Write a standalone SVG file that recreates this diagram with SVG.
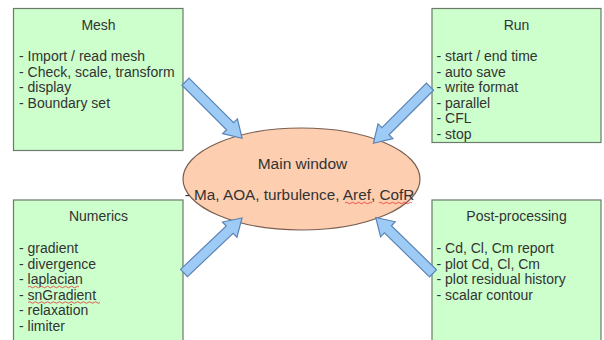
<svg xmlns="http://www.w3.org/2000/svg" width="604" height="340" viewBox="0 0 604 340">
<style>
.box{fill:#ccffcc;stroke:#6b7a6b;stroke-width:1.2}
.t{font-family:"Liberation Sans",Arial,sans-serif;font-size:14px;fill:#333333}
.c{text-anchor:middle}
.arr{fill:#9ecbf5;stroke:#5b84b5;stroke-width:1.2;stroke-linejoin:miter}
.sp{fill:none;stroke:#e03030;stroke-width:0.8}
</style>
<defs>
<path id="ar" d="M0,-5 L63,-5 L63,-10.5 L80,0 L63,10.5 L63,5 L0,5 Z"/>
</defs>
<rect width="604" height="340" fill="#ffffff"/>
<g id="mesh">
<rect class="box" x="13.5" y="8.5" width="169.5" height="142"/>
<text class="t c" x="98.5" y="30">Mesh</text>
<text class="t" x="19" y="61">- Import / read mesh</text>
<text class="t" x="19" y="76.5">- Check, scale, transform</text>
<text class="t" x="19" y="92">- display</text>
<text class="t" x="19" y="107.5">- Boundary set</text>
</g>
<g id="run">
<rect class="box" x="432" y="8.5" width="169" height="134"/>
<text class="t c" x="516.5" y="30">Run</text>
<text class="t" x="436.5" y="61">- start / end time</text>
<text class="t" x="436.5" y="76.5">- auto save</text>
<text class="t" x="436.5" y="92">- write format</text>
<text class="t" x="436.5" y="107.5">- parallel</text>
<text class="t" x="436.5" y="123">- CFL</text>
<text class="t" x="436.5" y="138.5">- stop</text>
</g>
<g id="numerics">
<rect class="box" x="13.5" y="200" width="169.5" height="160"/>
<text class="t c" x="98.5" y="221">Numerics</text>
<text class="t" x="19" y="253">- gradient</text>
<text class="t" x="19" y="268.5">- divergence</text>
<text class="t" x="19" y="284">- laplacian</text>
<text class="t" x="19" y="299.5">- snGradient</text>
<text class="t" x="19" y="315">- relaxation</text>
<text class="t" x="19" y="330.5">- limiter</text>
<path class="sp" d="M28,287 q1.5,-1.5 3,0 t3,0 t3,0 t3,0 t3,0 t3,0 t3,0 t3,0 t3,0 t3,0 t3,0 t3,0 t3,0 t3,0 t3,0 t3,0 t3,0"/>
<path class="sp" d="M28,302.5 q1.5,-1.5 3,0 t3,0 t3,0 t3,0 t3,0 t3,0 t3,0 t3,0 t3,0 t3,0 t3,0 t3,0 t3,0 t3,0 t3,0 t3,0 t3,0 t3,0 t3,0 t3,0 t3,0 t3,0 t3,0 t3,0"/>
</g>
<g id="post">
<rect class="box" x="432" y="200" width="169" height="160"/>
<text class="t c" x="516.5" y="221">Post-processing</text>
<text class="t" x="436.5" y="253">- Cd, Cl, Cm report</text>
<text class="t" x="436.5" y="268.5">- plot Cd, Cl, Cm</text>
<text class="t" x="436.5" y="284">- plot residual history</text>
<text class="t" x="436.5" y="299.5">- scalar contour</text>
</g>
<g id="main">
<ellipse cx="301.5" cy="179" rx="118.5" ry="51" fill="#fdcfb0" stroke="#7a5e50" stroke-width="1.2"/>
<text class="t c" x="302.5" y="168.5" style="font-size:15.5px">Main window</text>
<text class="t c" x="299.5" y="200" style="font-size:15.3px">- Ma, AOA, turbulence, Aref, CofR</text>
<path class="sp" d="M345,203 q1.5,-1.5 3,0 t3,0 t3,0 t3,0 t3,0 t3,0 t3,0 t3,0 t3,0"/>
<path class="sp" d="M379,203 q1.5,-1.5 3,0 t3,0 t3,0 t3,0 t3,0 t3,0 t3,0 t3,0 t3,0 t3,0 t3,0"/>
</g>
<g id="connectors">
<use href="#ar" class="arr" transform="translate(185.5,81.7) rotate(45)"/>
<use href="#ar" class="arr" transform="translate(430,86.7) rotate(135)"/>
<use href="#ar" class="arr" transform="translate(184,273) rotate(-43.5)"/>
<use href="#ar" class="arr" transform="translate(433,273.3) rotate(-135.7)"/>
</g>
</svg>
